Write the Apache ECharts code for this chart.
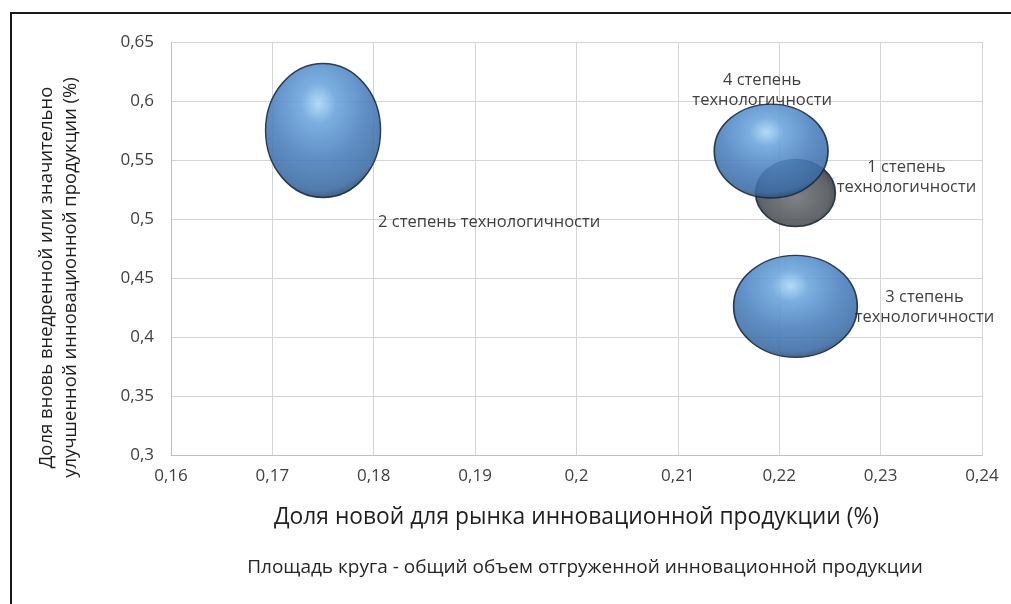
<!DOCTYPE html>
<html>
<head>
<meta charset="utf-8">
<script src="https://cdn.jsdelivr.net/npm/echarts@6/dist/echarts.min.js"></script>
<style>
  html, body { margin: 0; padding: 0; background: #ffffff; }
  #chart { width: 1011px; height: 604px; }
</style>
</head>
<body>
<div id="chart"></div>
<script>
// Degrees of technological readiness (one bubble each)
const categories = [
  '1 степень технологичности',
  '2 степень технологичности',
  '3 степень технологичности',
  '4 степень технологичности'
];
// Share of products new to the market (%)
const marketNewShare = [0.2216, 0.175, 0.2216, 0.2192];
// Share of newly introduced or significantly improved products (%)
const improvedShare = [0.522, 0.575, 0.426, 0.5576];
// Total volume of shipped innovative products (bubble area)
const shippedVolume = [53.6, 154, 126.5, 107];

// Axis ranges and tick steps
const xRange = [0.16, 0.24];
const xStep = 0.01;
const yRange = [0.3, 0.65];
const yStep = 0.05;

const axisTitleX = 'Доля новой для рынка инновационной продукции (%)';
const axisTitleY = 'Доля вновь внедренной или значительно\nулучшенной инновационной продукции (%)';
const footnote = 'Площадь круга - общий объем отгруженной инновационной продукции';

const FONT = '"Open Sans", "DejaVu Sans", sans-serif';
const comma = v => String(+v.toFixed(4)).replace('.', ',');

const blueBubble = {
  type: 'radial', x: 0.46, y: 0.3, r: 0.74,
  colorStops: [
    { offset: 0, color: '#a9d6f7' },
    { offset: 0.2, color: '#6aa4dc' },
    { offset: 0.55, color: '#4a7fbd' },
    { offset: 0.86, color: '#3a6aa2' },
    { offset: 1, color: '#1d3a5e' }
  ]
};
const greyBubble = {
  type: 'radial', x: 0.5, y: 0.55, r: 0.62,
  colorStops: [
    { offset: 0, color: '#6d7176' },
    { offset: 0.65, color: '#4d5156' },
    { offset: 1, color: '#222428' }
  ]
};

// Per-bubble drawing style: fill, ellipse stretch, label placement, leader line
const bubbleStyle = [
  { fill: greyBubble, stretch: [1.09, 0.915], offset: [111, -16], align: 'center', text: '1 степень\nтехнологичности', guide: true },
  { fill: blueBubble, stretch: [0.927, 1.08], offset: [55, 92], align: 'left', text: '2 степень технологичности', guide: false },
  { fill: blueBubble, stretch: [1.10, 0.907], offset: [129, 1], align: 'center', text: '3 степень\nтехнологичности', guide: false },
  { fill: blueBubble, stretch: [1.10, 0.908], offset: [-9, -61], align: 'center', text: '4 степень\nтехнологичности', guide: true }
];

const series = categories.map((name, i) => {
  const st = bubbleStyle[i];
  return {
    name: name,
    type: 'scatter',
    data: [[marketNewShare[i], improvedShare[i], shippedVolume[i]]],
    symbol: 'circle',
    symbolSize: v => {
      const d = 10 * Math.sqrt(v[2]);
      return [d * st.stretch[0], d * st.stretch[1]];
    },
    itemStyle: {
      color: st.fill,
      borderColor: '#17283c',
      borderWidth: 1.5,
      opacity: 0.88
    },
    label: {
      show: true,
      position: 'inside',
      formatter: () => st.text,
      color: '#262626',
      fontFamily: FONT,
      fontSize: 16.5,
      lineHeight: 20
    },
    // place the label relative to the bubble centre
    labelLayout: p => ({
      x: p.rect.x + p.rect.width / 2 + st.offset[0],
      y: p.rect.y + p.rect.height / 2 + st.offset[1],
      align: st.align,
      verticalAlign: 'middle'
    }),
    labelLine: {
      show: st.guide,
      lineStyle: { color: '#e4ebf3', width: 1.5 }
    },
    emphasis: { disabled: true },
    z: 2 + i
  };
});

const chart = echarts.init(document.getElementById('chart'), null, { renderer: 'canvas' });
chart.setOption({
  backgroundColor: '#ffffff',
  animation: false,
  title: {
    text: footnote,
    left: 580,
    top: 553,
    textAlign: 'center',
    textStyle: { fontFamily: FONT, fontSize: 19, fontWeight: 'normal', color: '#262626' }
  },
  graphic: [{
    type: 'rect',
    shape: { x: 11, y: 13, width: 1040, height: 640 },
    style: { fill: 'none', stroke: '#1a1a1a', lineWidth: 2 },
    silent: true
  }],
  grid: { left: 171, right: 29, top: 42, bottom: 149 },
  xAxis: {
    type: 'value',
    min: xRange[0], max: xRange[1], interval: xStep,
    name: axisTitleX,
    nameLocation: 'middle',
    nameGap: 51,
    nameTextStyle: { fontFamily: FONT, fontSize: 22.8, color: '#1f1f1f' },
    axisLine: { show: true, lineStyle: { color: '#bfbfbf' } },
    axisTick: { show: false },
    axisLabel: { formatter: comma, margin: 13, fontFamily: FONT, fontSize: 17, color: '#404040' },
    splitLine: { show: true, lineStyle: { color: '#d4d4d4' } }
  },
  yAxis: {
    type: 'value',
    min: yRange[0], max: yRange[1], interval: yStep,
    name: axisTitleY,
    nameLocation: 'middle',
    nameRotate: 90,
    nameGap: 88,
    nameTextStyle: { fontFamily: FONT, fontSize: 18.5, color: '#1f1f1f', lineHeight: 24, padding: [0, 58, 0, 0] },
    axisLine: { show: true, lineStyle: { color: '#bfbfbf' } },
    axisTick: { show: false },
    axisLabel: { formatter: comma, margin: 17, fontFamily: FONT, fontSize: 17, color: '#404040' },
    splitLine: { show: true, lineStyle: { color: '#d4d4d4' } }
  },
  series: series
});
</script>
</body>
</html>
